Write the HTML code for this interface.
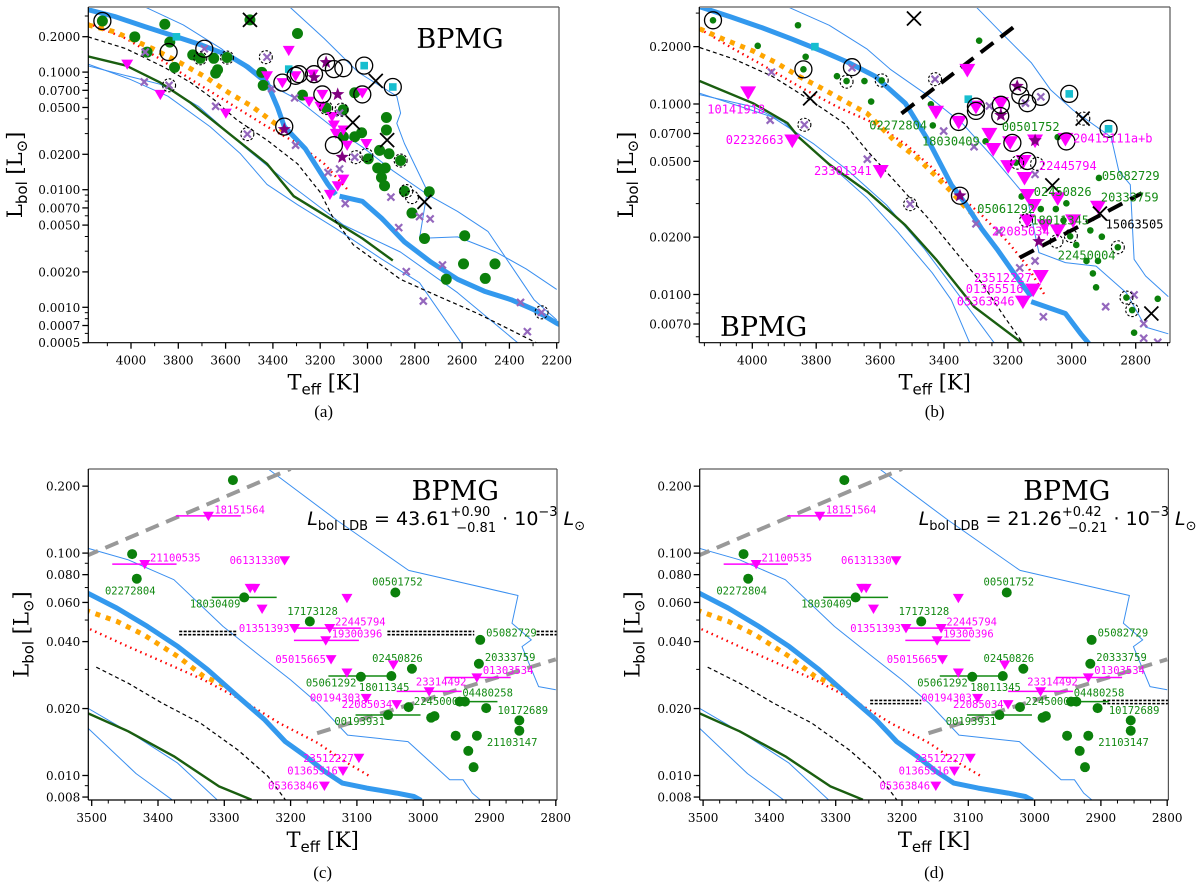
<!DOCTYPE html>
<html><head><meta charset="utf-8"><style>
html,body{margin:0;padding:0;background:#fff;}
svg{display:block;}
</style></head><body>
<svg id="fig" width="1200" height="892" viewBox="0 0 1200 892" xmlns="http://www.w3.org/2000/svg"></svg>
<script>
// ---------- PANEL A DATA ----------
const aXTicks=[4000,3800,3600,3400,3200,3000,2800,2600,2400,2200];
const aYTicks=[0.2,0.1,0.07,0.05,0.02,0.01,0.007,0.005,0.002,0.001,0.0007,0.0005];
const aYLabels=['0.2000','0.1000','0.0700','0.0500','0.0200','0.0100','0.0070','0.0050','0.0020','0.0010','0.0007','0.0005'];
const aBlueThick1=[[4182,0.339],[4069,0.297],[3940,0.243],[3828,0.206],[3699,0.169],[3586,0.138],[3505,0.110],[3425,0.0814],[3380,0.050],[3352,0.0344],[3263,0.0223],[3167,0.0111],[3134,0.0091]];
const aBlueThick2=[[3118,0.0088],[3022,0.00797],[2941,0.00573],[2844,0.0036],[2731,0.00242],[2619,0.00173],[2506,0.00137],[2393,0.00116],[2296,0.000955],[2200,0.000733],[2180,0.0007]];
const aOrange=[[4182,0.252],[4069,0.220],[3908,0.158],[3795,0.121],[3682,0.090],[3586,0.0667],[3489,0.0512],[3392,0.0367],[3344,0.0301]];
const aRed=[[4182,0.26],[4021,0.193],[3876,0.129],[3747,0.0869],[3586,0.0547],[3425,0.0344],[3296,0.0247],[3183,0.0166],[3086,0.0101]];
const aBlackDash=[[4182,0.1995],[4021,0.158],[3860,0.110],[3747,0.0814],[3650,0.0585],[3553,0.0393],[3425,0.0264],[3296,0.0166],[3200,0.0095],[3150,0.0060],[3060,0.0034],[2980,0.0026],[2861,0.00173],[2700,0.00124],[2538,0.000893],[2280,0.000492]];
const aGreenLine=[[4182,0.136],[4021,0.1135],[3876,0.0814],[3747,0.0547],[3586,0.0301],[3425,0.0166],[3312,0.00881],[3183,0.00612],[3022,0.00385],[2893,0.0025]];
const aThin1=[[4182,0.117],[4005,0.087],[3844,0.0624],[3666,0.0344],[3537,0.0202],[3425,0.0111],[3296,0.00746],[3134,0.00469],[2941,0.00258],[2780,0.00162],[2602,0.000492]];
const aThin2=[[4182,0.113],[3876,0.0787],[3715,0.0512],[3521,0.0231],[3328,0.0111],[3102,0.00501],[2861,0.00295],[2619,0.00133],[2361,0.000492]];
const aThin3=[[3940,0.357],[3779,0.252],[3618,0.158],[3457,0.0869],[3296,0.0585],[3150,0.0344],[3022,0.0231],[2893,0.0145],[2747,0.00912],[2619,0.00654],[2490,0.0044],[2393,0.00226],[2296,0.00116],[2200,0.000782]];
const aThin4=[[3328,0.357],[3183,0.193],[3038,0.0993],[2876,0.0624],[2860,0.0448],[2876,0.0367],[2844,0.0247],[2747,0.00975],[2780,0.00385],[2619,0.00397],[2457,0.00295],[2329,0.00212],[2200,0.00142]];
const aGreenPts=[[4121,0.272],[3857,0.255],[3984,0.1995],[3836,0.18],[3932,0.148],[3739,0.14],[3707,0.131],[3650,0.131],[3594,0.133],[3816,0.1097],[3634,0.1047],[3642,0.098],[3447,0.0994],[3441,0.0772],[3296,0.213],[3275,0.0637],[3054,0.0667],[2920,0.0411],[2920,0.0322],[3025,0.0305],[3054,0.0282],[3102,0.0282],[2949,0.0216],[2909,0.0202],[2997,0.0183],[2957,0.0153],[2925,0.0153],[2941,0.0127],[2928,0.0108],[2739,0.00961],[2812,0.00633],[2759,0.00385],[2589,0.00406],[2594,0.00234],[2461,0.00234],[2667,0.00173],[2502,0.00176],[2860,0.0177],[3175,0.0495],[3102,0.0479],[3497,0.278],[2844,0.00973]];
const aTriPts=[[3333,0.153],[4016,0.117],[3876,0.0646],[3599,0.0448],[3425,0.093],[3360,0.0814],[3304,0.093],[3247,0.0565],[3199,0.0512],[3191,0.0646],[3150,0.0419],[3142,0.0355],[3134,0.0301],[3102,0.0322],[3086,0.0239],[3005,0.0247],[3159,0.00912],[3126,0.0108],[3102,0.0123],[3022,0.0667],[3231,0.0961]];
const aXPts=[[3940,0.148],[3944,0.0825],[3839,0.0772],[3690,0.158],[3642,0.0512],[3508,0.0297],[3425,0.134],[3405,0.0723],[3308,0.0604],[3304,0.0239],[3167,0.014],[3118,0.015],[3094,0.00762],[2901,0.00865],[2868,0.00476],[2836,0.00201],[2780,0.00591],[2735,0.00565],[2683,0.00229],[2764,0.00113],[2353,0.0011],[2324,0.000621],[2264,0.000906],[3054,0.0189],[3118,0.0448]];
const aSquares=[[3808,0.1995],[3333,0.106],[3014,0.1135],[2893,0.0747]];
const aStars=[[3352,0.0326],[3175,0.121],[3126,0.0646],[3226,0.09],[3107,0.0189]];
const aBigX=[[3497,0.278],[3062,0.0373],[2917,0.0264],[2965,0.0842],[2759,0.00787]];
const aRings=[[4121,0.272],[3841,0.148],[3690,0.158],[3352,0.0344],[3360,0.0814],[3304,0.093],[3226,0.096],[3175,0.121],[3142,0.106],[3102,0.108],[3014,0.1135],[3191,0.0646],[3022,0.0646],[2893,0.0747],[3142,0.0239],[3290,0.096]];
const aDashRings=[[3707,0.131],[3594,0.133],[3839,0.0772],[3430,0.134],[3508,0.0297],[3175,0.0495],[3110,0.0479],[3050,0.0189],[3005,0.0197],[2860,0.0177],[2836,0.00973],[2812,0.00865],[2264,0.000906]];

// ---------- PANEL B DATA ----------
const bXTicks=[4000,3800,3600,3400,3200,3000,2800];
const bYTicks=[0.2,0.1,0.07,0.05,0.02,0.01,0.007];
const bYLabels=['0.2000','0.1000','0.0700','0.0500','0.0200','0.0100','0.0070'];
const bBlueThick1=[[4165,0.324],[4069,0.287],[3974,0.253],[3878,0.22],[3783,0.19],[3699,0.165],[3616,0.14],[3521,0.101],[3449,0.0643],[3377,0.0377],[3330,0.0295],[3282,0.0221],[3234,0.0173],[3175,0.0125],[3127,0.00975]];
const bBlueThick2=[[3127,0.00918],[3020,0.00795],[2972,0.00622],[2936,0.00527]];
const bOrange=[[4165,0.248],[4093,0.22],[3998,0.19],[3926,0.165],[3855,0.14],[3783,0.121],[3699,0.101],[3640,0.0891],[3556,0.0643],[3485,0.0524],[3425,0.0418],[3377,0.0347],[3330,0.0283],[3300,0.0255]];
const bRed=[[4165,0.248],[4057,0.194],[3962,0.158],[3855,0.124],[3735,0.0968],[3616,0.0789],[3521,0.0616],[3437,0.0463],[3366,0.0347],[3282,0.0261],[3199,0.0188],[3139,0.0141],[3085,0.00995]];
const bBlackDash=[[4165,0.198],[4057,0.172],[3938,0.14],[3819,0.105],[3711,0.0789],[3640,0.0568],[3544,0.0377],[3449,0.0251],[3354,0.016],[3282,0.0115],[3211,0.00764],[3151,0.00549]];
const bGreenLine=[[4165,0.132],[3998,0.101],[3890,0.0795],[3855,0.067],[3759,0.0482],[3640,0.0347],[3521,0.0231],[3425,0.0153],[3306,0.00863],[3151,0.00549]];
const bThin1=[[4165,0.112],[3998,0.0968],[3902,0.0805],[3855,0.067],[3759,0.0482],[3640,0.032],[3544,0.0212],[3437,0.013],[3377,0.00937],[3318,0.00549]];
const bThin2=[[4165,0.114],[3938,0.0856],[3807,0.0616],[3699,0.0445],[3580,0.0295],[3461,0.0173],[3342,0.00937],[3240,0.00549]];
const bThin3=[[3890,0.324],[3759,0.259],[3640,0.194],[3568,0.152],[3461,0.114],[3342,0.0789],[3246,0.0524],[3139,0.032],[3103,0.0166],[3020,0.0147],[2924,0.0141],[2829,0.0102],[2769,0.00674],[2698,0.00622]];
const bThin4=[[3300,0.324],[3222,0.238],[3127,0.165],[3067,0.119],[2996,0.0929],[2877,0.067],[2853,0.0445],[2817,0.0377],[2805,0.0153],[2769,0.0125],[2698,0.00975]];
const bDashUpper=[[3533,0.0891],[3175,0.259]];
const bDashLower=[[3163,0.0156],[2781,0.034]];
const bTriPts=[[4013,0.115],[3875,0.0643],[3598,0.0445],[3425,0.091],[3327,0.151],[3354,0.0805],[3300,0.0968],[3222,0.101],[3258,0.0697],[3246,0.058],[3193,0.063],[3199,0.0472],[3148,0.0409],[3139,0.0333],[3119,0.0295],[3139,0.0245],[3085,0.0231],[3044,0.0217],[2996,0.0245],[3044,0.032],[3097,0.0125],[3121,0.0106],[3153,0.00918],[3020,0.0656],[3115,0.0643],[2918,0.0289],[3151,0.0502]];
const bGreenPts=[[4123,0.275],[3857,0.259],[3983,0.202],[3833,0.177],[3840,0.152],[3735,0.14],[3705,0.132],[3649,0.132],[3628,0.103],[3595,0.133],[3441,0.0996],[3435,0.0772],[3290,0.215],[3270,0.0637],[3175,0.0492],[3157,0.0327],[3097,0.0281],[3050,0.0281],[3017,0.0301],[3026,0.0245],[2986,0.0182],[2942,0.0217],[2906,0.0201],[2954,0.015],[2918,0.015],[2934,0.0129],[2924,0.0109],[2915,0.0409],[2829,0.00964],[2811,0.00828],[2805,0.0063],[2731,0.00949],[2856,0.0177],[3005,0.0202],[3044,0.067]];
const bXPts=[[3940,0.147],[3944,0.0822],[3837,0.0778],[3688,0.155],[3640,0.0513],[3506,0.0298],[3428,0.135],[3401,0.0721],[3300,0.0235],[3258,0.0976],[3163,0.0138],[3115,0.015],[3115,0.0427],[3228,0.0214],[3145,0.101],[3097,0.109],[3089,0.00764],[2894,0.00863],[2805,0.00995],[2775,0.00703],[2775,0.00589],[2731,0.00561],[3306,0.0597]];
const bSquares=[[3804,0.2],[3324,0.106],[3008,0.113],[2885,0.0741]];
const bStars=[[3350,0.033],[3171,0.124],[3115,0.0643],[3222,0.0873],[3103,0.019]];
const bBigX=[[3494,0.281],[3819,0.107],[2966,0.0838],[3061,0.0374],[2912,0.0266],[2751,0.00795]];
const bRings=[[4123,0.275],[3840,0.152],[3688,0.156],[3354,0.0805],[3300,0.0968],[3300,0.092],[3222,0.099],[3224,0.0865],[3167,0.124],[3161,0.111],[3139,0.101],[3097,0.109],[3008,0.113],[2885,0.0741],[3186,0.0625],[3017,0.0636],[3350,0.033],[3139,0.0502]];
const bDashRings=[[3705,0.131],[3595,0.133],[3837,0.0778],[3428,0.135],[3506,0.0298],[3171,0.0492],[3109,0.0485],[3143,0.0245],[3048,0.019],[3003,0.0203],[2856,0.0177],[2829,0.00964],[2811,0.00828],[2964,0.0838]];
const bLabelText=['10141918','02232663','23301341','20415111a+b','22445794','22085034','23512227','01365516','05363846','02272804','00501752','18030409','05082729','02450826','20333759','05061292','18011345','22450004','15063505'];
const bLabelPos=[[4141,0.0891],[4083,0.0616],[3807,0.0423],[2996,0.0629],[3103,0.045],[3250,0.0204],[3306,0.0116],[3332,0.0102],[3360,0.00873],[3634,0.0736],[3219,0.0721],[3469,0.0604],[2906,0.0398],[3119,0.0328],[2909,0.0308],[3296,0.0267],[3127,0.0233],[3044,0.0153],[2894,0.0222]];
const bLabelKind=['m','m','m','m','m','m','m','m','m','g','g','g','g','g','g','g','g','g','k'];

// ---------- PANELS C & D DATA ----------
const cXTicks=[3500,3400,3300,3200,3100,3000,2900,2800];
const cYTicks=[0.2,0.1,0.08,0.06,0.04,0.02,0.01,0.008];
const cYLabels=['0.200','0.100','0.080','0.060','0.040','0.020','0.010','0.008'];
const cBlueThick=[[3510,0.067],[3462,0.0566],[3416,0.0468],[3370,0.038],[3325,0.0299],[3279,0.0226],[3239,0.0178],[3208,0.0142],[3177,0.0122],[3148,0.0104],[3122,0.00924],[3085,0.00878],[3040,0.00833],[3014,0.00805],[3003,0.00773]];
const cOrange=[[3510,0.0555],[3462,0.0493],[3422,0.043],[3370,0.0343],[3331,0.0279],[3296,0.0251]];
const cRed=[[3510,0.0466],[3445,0.038],[3388,0.032],[3331,0.0269],[3274,0.0219],[3217,0.0172],[3159,0.014],[3119,0.0116],[3080,0.0099]];
const cBlackDash=[[3493,0.0307],[3445,0.026],[3393,0.0211],[3336,0.0172],[3279,0.013],[3234,0.0099],[3208,0.00778]];
const cGreenLine=[[3510,0.0193],[3445,0.0158],[3376,0.0122],[3308,0.00893],[3259,0.00778]];
const cThin1=[[3510,0.0204],[3433,0.015],[3371,0.0114],[3311,0.00778]];
const cThin2=[[3510,0.0168],[3433,0.0102],[3379,0.00778]];
const cThin3=[[3510,0.106],[3445,0.0933],[3376,0.0759],[3302,0.0468],[3245,0.0343],[3200,0.0269],[3159,0.0211],[3114,0.0152],[3023,0.0142],[2988,0.0114],[2960,0.00957],[2940,0.00957],[2926,0.00833],[2914,0.00778]];
const cThin4=[[3234,0.239],[3131,0.141],[3022,0.0836],[2857,0.0645],[2866,0.0484],[2837,0.0407],[2851,0.038],[2826,0.0251],[2800,0.0243]];
const cGrayUpper=[[3510,0.0966],[3200,0.239]];
const cGrayLower=[[3160,0.0155],[2800,0.0333]];
const cGreenPts=[[3287,0.213],[3439,0.099],[3432,0.0767],[3270,0.0632],[3171,0.0493],[3042,0.0665],[2914,0.0407],[2916,0.0318],[3017,0.0302],[3094,0.0278],[3048,0.028],[2945,0.0215],[2937,0.0215],[2905,0.0201],[3022,0.0203],[3053,0.0187],[2988,0.0182],[2983,0.0185],[2855,0.0177],[2855,0.0159],[2951,0.0151],[2919,0.0151],[2932,0.0129],[2924,0.0109]];
const cTriPts=[[3324,0.147],[3420,0.0892],[3209,0.0928],[3261,0.0697],[3254,0.0697],[3243,0.0562],[3115,0.0628],[3194,0.046],[3141,0.046],[3147,0.0405],[3139,0.0333],[3115,0.029],[3045,0.0315],[2919,0.0276],[2991,0.0239],[3086,0.0223],[3040,0.0209],[3097,0.012],[3121,0.0105],[3149,0.00899]];
const cErrMag=[[3373,3275,0.147],[3469,3372,0.0892],[3194,3094,0.046],[3195,3097,0.0405],[2968,2868,0.0276],[3040,2942,0.0239]];
const cErrGreen=[[3319,3221,0.0632],[3143,3048,0.028],[3102,3004,0.0187],[2948,2888,0.0215]];
const cLabelText=['18151564','21100535','06131330','01351393','22445794','19300396','05015665','01303534','23314492','00194303','22085034','23512227','01365516','05363846','02272804','18030409','00501752','17173128','05082729','02450826','20333759','05061292','18011345','04480258','22450004','10172689','00193931','21103147'];
const cLabelPos=[[3315,0.151],[3412,0.0918],[3292,0.0892],[3278,0.0441],[3133,0.0473],[3138,0.0418],[3223,0.032],[2910,0.0286],[3011,0.0254],[3171,0.0215],[3123,0.0201],[3181,0.0115],[3205,0.0101],[3234,0.00863],[3480,0.065],[3352,0.057],[3077,0.0716],[3205,0.0528],[2905,0.0422],[3077,0.0324],[2907,0.0328],[3177,0.0251],[3097,0.024],[2941,0.0226],[3014,0.0208],[2888,0.0189],[3134,0.0169],[2904,0.0136]];
const cLabelKind=['m','m','m','m','m','m','m','m','m','m','m','m','m','m','g','g','g','g','g','g','g','g','g','g','g','g','g','g'];
const cLdb=[0.0437];
const cLdbSeg=[[3368,3282],[3054,2923],[2829,2790]];
const cFormula=['43.61','+0.90','\u22120.81'];
const dLdb=[0.0214];
const dLdbSeg=[[3248,3171],[2897,2790]];
const dFormula=['21.26','+0.42','\u22120.21'];

// ---------- HELPERS ----------
const NS='http://www.w3.org/2000/svg';
const svg=document.getElementById('fig');
function mk(tag,attrs,parent){const e=document.createElementNS(NS,tag);for(const k in attrs)e.setAttribute(k,attrs[k]);(parent||svg).appendChild(e);return e;}
const lg=Math.log10;
function mkPanel(id,x0,x1,y0,y1,sx,sy){return {id,x0,x1,y0,y1,sx,sy};}
const PA=mkPanel('a',88.3,559,7,342.7,T=>131+(4000-T)*0.2365,L=>342.7-(lg(L)-lg(0.0005))*117.6);
const PB=mkPanel('b',699.3,1170,7,342.7,T=>752.3+(4000-T)*0.3195,L=>324-(lg(L)-lg(0.007))*190.5);
const PC=mkPanel('c',88.3,557,469,800,T=>91.7+(3500-T)*0.663,L=>775.5-(lg(L)+2)*222.4);
const PD=mkPanel('d',699.7,1168.4,469,800,T=>703.1+(3500-T)*0.663,L=>775.5-(lg(L)+2)*222.4);
function invT(P,x){let lo=1000,hi=6000;for(let i=0;i<50;i++){const m=(lo+hi)/2;if(P.sx(m)>x)lo=m;else hi=m;}return (lo+hi)/2;}
function invL(P,y){let lo=-5,hi=1;for(let i=0;i<50;i++){const m=(lo+hi)/2;if(P.sy(Math.pow(10,m))>y)lo=m;else hi=m;}return Math.pow(10,(lo+hi)/2);}

function setupPanel(P){
  const defs=mk('defs',{});
  const cp=mk('clipPath',{id:'clip-'+P.id},defs);
  mk('rect',{x:P.x0,y:P.y0,width:P.x1-P.x0,height:P.y1-P.y0},cp);
  const g=mk('g',{'clip-path':'url(#clip-'+P.id+')'});
  
  
  P.g=g;
}
function axes(P,xTicks,xMinor,yTicks,yLabels){
  const g=mk('g',{});
  
  
  const top=mk('line',{x1:P.x0,y1:P.y0,x2:P.x1,y2:P.y0,stroke:'#999',"stroke-width":2},g);
  
  
  const right=mk('line',{x1:P.x1,y1:P.y0,x2:P.x1,y2:P.y1,stroke:'#555',"stroke-width":1.2},g);
  
  
  const left=mk('line',{x1:P.x0,y1:P.y0,x2:P.x0,y2:P.y1,stroke:'#000',"stroke-width":1.2},g);
  
  
  const bot=mk('line',{x1:P.x0,y1:P.y1,x2:P.x1,y2:P.y1,stroke:'#000',"stroke-width":1.2},g);
  
  
  const tHi=invT(P,P.x0), tLo=invT(P,P.x1);
  for(let t=Math.ceil(tLo/xMinor)*xMinor;t<=tHi;t+=xMinor){
    if(xTicks.indexOf(t)>=0)continue;
    const x=P.sx(t);
    const m=mk('line',{x1:x,y1:P.y1,x2:x,y2:P.y1+3.5,stroke:'#000',"stroke-width":1},g);
    
    
  }
  xTicks.forEach(t=>{
    const x=P.sx(t);
    const tk=mk('line',{x1:x,y1:P.y1,x2:x,y2:P.y1+6,stroke:'#000',"stroke-width":1.3},g);
    
    
    const tx=mk('text',{x:x,y:P.y1+22,"text-anchor":'middle',"font-family":'"DejaVu Serif","Liberation Serif",serif',"font-size":12,fill:'#000'},g);
    tx.textContent=String(t);
    
    
  });
  const lLo=invL(P,P.y1), lHi=invL(P,P.y0);
  for(let k=-5;k<=0;k++){for(let d=1;d<=9;d++){
    const v=d*Math.pow(10,k);
    if(v<lLo*0.999||v>lHi)continue;
    if(yTicks.some(u=>Math.abs(u-v)/v<1e-6))continue;
    const y=P.sy(v);
    const m=mk('line',{x1:P.x0-3.5,y1:y,x2:P.x0,y2:y,stroke:'#000',"stroke-width":1},g);
    
    
  }}
  yTicks.forEach((v,i)=>{
    const y=P.sy(v);
    const tk=mk('line',{x1:P.x0-6,y1:y,x2:P.x0,y2:y,stroke:'#000',"stroke-width":1.3},g);
    
    
    const tx=mk('text',{x:P.x0-8,y:y+4.5,"text-anchor":'end',"font-family":'"DejaVu Serif","Liberation Serif",serif',"font-size":12,fill:'#000'},g);
    tx.textContent=yLabels[i];
    
    
  });
}
function titles(P,ylx,capY){
  const cx=(P.x0+P.x1)/2, cy=(P.y0+P.y1)/2;
  const xt=mk('text',{x:cx,y:P.y1+47,"text-anchor":'middle',"font-family":'"DejaVu Serif","Liberation Serif",serif',"font-size":21,fill:'#000'});
  
  
  xt.innerHTML='T<tspan font-size="15" dy="5" font-family="DejaVu Sans, sans-serif">eff</tspan><tspan dy="-5"> [K]</tspan>';
  const yt=mk('text',{x:0,y:0,transform:'translate('+ylx+','+cy+') rotate(-90)',"text-anchor":'middle',"font-family":'"DejaVu Serif","Liberation Serif",serif',"font-size":21,fill:'#000'});
  
  
  yt.innerHTML='L<tspan font-size="15" dy="5" font-family="DejaVu Sans, sans-serif">bol</tspan><tspan dy="-5"> [L</tspan><tspan font-size="15" dy="5">\u2299</tspan><tspan dy="-5">]</tspan>';
  const cap=mk('text',{x:cx,y:capY,"text-anchor":'middle',"font-family":'"Liberation Serif",serif',"font-size":17,fill:'#000'});
  cap.textContent='('+P.id+')';
  
  
}
function line(P,arr,stroke,w,dash,name){
  const d=arr.map((p,i)=>(i?'L':'M')+P.sx(p[0]).toFixed(1)+','+P.sy(p[1]).toFixed(1)).join(' ');
  const el=mk('path',{d:d,fill:'none',stroke:stroke,"stroke-width":w,"stroke-dasharray":dash||'none',"stroke-linejoin":'round'},P.g);
  
  
}
function starPts(x,y,r){let s=[];for(let i=0;i<10;i++){const a=-Math.PI/2+i*Math.PI/5;const rr=i%2?r*0.42:r;s.push((x+rr*Math.cos(a)).toFixed(1)+','+(y+rr*Math.sin(a)).toFixed(1));}return s.join(' ');}
function markers(P,arr,type,s,name){
  arr.forEach(p=>{
    const x=P.sx(p[0]), y=P.sy(p[1]); let el;
    if(type==='dot') el=mk('circle',{cx:x,cy:y,r:s,fill:'#0b800b'},P.g);
    else if(type==='tri') el=mk('polygon',{points:(x-s)+','+(y-s*0.75)+' '+(x+s)+','+(y-s*0.75)+' '+x+','+(y+s*0.95),fill:'#ff00ff'},P.g);
    else if(type==='x') el=mk('path',{d:'M'+(x-s)+','+(y-s)+'L'+(x+s)+','+(y+s)+'M'+(x-s)+','+(y+s)+'L'+(x+s)+','+(y-s),stroke:'#9467bd',"stroke-width":2.2,fill:'none'},P.g);
    else if(type==='bigx') el=mk('path',{d:'M'+(x-s)+','+(y-s)+'L'+(x+s)+','+(y+s)+'M'+(x-s)+','+(y+s)+'L'+(x+s)+','+(y-s),stroke:'#000',"stroke-width":1.8,fill:'none'},P.g);
    else if(type==='sq') el=mk('rect',{x:x-s,y:y-s,width:2*s,height:2*s,fill:'#17becf'},P.g);
    else if(type==='star') el=mk('polygon',{points:starPts(x,y,s),fill:'#800080'},P.g);
    else if(type==='ring') el=mk('circle',{cx:x,cy:y,r:s,fill:'none',stroke:'#000',"stroke-width":1.3},P.g);
    else if(type==='dring') el=mk('circle',{cx:x,cy:y,r:s,fill:'none',stroke:'#000',"stroke-width":1.1,"stroke-dasharray":'2.5,1.8'},P.g);
    
    
  });
}
function labels(P,texts,pos,kinds,size){
  texts.forEach((t,i)=>{
    const col=kinds[i]==='m'?'#ff00ff':(kinds[i]==='g'?'#138a13':'#000');
    const el=mk('text',{x:P.sx(pos[i][0]),y:P.sy(pos[i][1]),"font-family":'"DejaVu Sans Mono","Liberation Mono",monospace',"font-size":size,fill:col},P.g);
    el.textContent=t;
    
    
  });
}
function bpmg(x,y,anchor){
  const el=mk('text',{x:x,y:y,"text-anchor":anchor,"font-family":'"DejaVu Serif","Liberation Serif",serif',"font-size":27,fill:'#000'});
  el.textContent='BPMG';
  
  
}

// ---------- PANEL A ----------
setupPanel(PA);
line(PA,aThin1,'#3a8ff0',1,null,'isochrone-thin');
line(PA,aThin2,'#3a8ff0',1,null,'isochrone-thin');
line(PA,aThin3,'#3a8ff0',1,null,'isochrone-thin');
line(PA,aThin4,'#3a8ff0',1,null,'isochrone-thin');
line(PA,aGreenLine,'#1a5e10',2.4,null,'dark-green-track');
line(PA,aBlackDash,'#000',1.2,'4,3','black-dashed-track');
line(PA,aRed,'#ff0000',2.4,'1.5,4','red-dotted-track');
line(PA,aOrange,'#ffa500',5,'5,6','orange-dotted-track');
line(PA,aBlueThick1,'#3399ee',5,null,'isochrone-thick');
line(PA,aBlueThick2,'#3399ee',5,null,'isochrone-thick');
markers(PA,aGreenPts,'dot',5.5,'green-member');
markers(PA,aTriPts,'tri',6,'magenta-upper-limit');
markers(PA,aXPts,'x',3.5,'purple-candidate');
markers(PA,aSquares,'sq',3.8,'cyan-square');
markers(PA,aStars,'star',7,'purple-star');
markers(PA,aRings,'ring',8.5,'binary-ring');
markers(PA,aDashRings,'dring',6.5,'dashed-ring');
markers(PA,aBigX,'bigx',7,'black-cross');
axes(PA,aXTicks,100,aYTicks,aYLabels);
titles(PA,22,417);
bpmg(460,48,'middle');

// ---------- PANEL B ----------
setupPanel(PB);
line(PB,bThin1,'#3a8ff0',1,null,'isochrone-thin');
line(PB,bThin2,'#3a8ff0',1,null,'isochrone-thin');
line(PB,bThin3,'#3a8ff0',1,null,'isochrone-thin');
line(PB,bThin4,'#3a8ff0',1,null,'isochrone-thin');
line(PB,bGreenLine,'#1a5e10',2.4,null,'dark-green-track');
line(PB,bBlackDash,'#000',1.2,'4,3','black-dashed-track');
line(PB,bRed,'#ff0000',2.4,'1.5,4','red-dotted-track');
line(PB,bOrange,'#ffa500',5,'5,6','orange-dotted-track');
line(PB,bBlueThick1,'#3399ee',5,null,'isochrone-thick');
line(PB,bBlueThick2,'#3399ee',5,null,'isochrone-thick');
line(PB,bDashUpper,'#000',4,'16,9','ldb-boundary-upper');
line(PB,bDashLower,'#000',4,'16,9','ldb-boundary-lower');
markers(PB,bGreenPts,'dot',3.3,'green-member');
markers(PB,bTriPts,'tri',8,'magenta-upper-limit');
markers(PB,bXPts,'x',3.5,'purple-candidate');
markers(PB,bSquares,'sq',3.8,'cyan-square');
markers(PB,bStars,'star',7,'purple-star');
markers(PB,bRings,'ring',8.5,'binary-ring');
markers(PB,bDashRings,'dring',6.5,'dashed-ring');
markers(PB,bBigX,'bigx',7,'black-cross');
labels(PB,bLabelText,bLabelPos,bLabelKind,12);
axes(PB,bXTicks,50,bYTicks,bYLabels);
titles(PB,633,417);
bpmg(720,336,'start');

// ---------- PANELS C, D ----------
function drawCD(P,ldb,seg,formula){
  setupPanel(P);
  line(P,cThin1,'#3a8ff0',1,null,'isochrone-thin');
  line(P,cThin2,'#3a8ff0',1,null,'isochrone-thin');
  line(P,cThin3,'#3a8ff0',1,null,'isochrone-thin');
  line(P,cThin4,'#3a8ff0',1,null,'isochrone-thin');
  line(P,cGreenLine,'#1a5e10',2.4,null,'dark-green-track');
  line(P,cBlackDash,'#000',1.2,'4,3','black-dashed-track');
  line(P,cRed,'#ff0000',2.4,'1.5,4','red-dotted-track');
  line(P,cOrange,'#ffa500',5,'5,6','orange-dotted-track');
  line(P,cBlueThick,'#3399ee',5,null,'isochrone-thick');
  line(P,cGrayUpper,'#999',4,'14,8','gray-boundary-upper');
  line(P,cGrayLower,'#999',4,'14,8','gray-boundary-lower');
  seg.forEach(s=>{
    [-1.6,1.6].forEach(off=>{
      const el=mk('line',{x1:P.sx(s[0]),x2:P.sx(s[1]),y1:P.sy(ldb[0])+off,y2:P.sy(ldb[0])+off,stroke:'#000',"stroke-width":1.6,"stroke-dasharray":'3,1.5'},P.g);
      
      
    });
  });
  cErrMag.forEach(e=>{
    const el=mk('line',{x1:P.sx(e[0]),x2:P.sx(e[1]),y1:P.sy(e[2]),y2:P.sy(e[2]),stroke:'#ff00ff',"stroke-width":1.5},P.g);
    
    
  });
  cErrGreen.forEach(e=>{
    const el=mk('line',{x1:P.sx(e[0]),x2:P.sx(e[1]),y1:P.sy(e[2]),y2:P.sy(e[2]),stroke:'#138a13',"stroke-width":1.5},P.g);
    
    
  });
  labels(P,cLabelText,cLabelPos,cLabelKind,10.5);
  markers(P,cGreenPts,'dot',5,'green-member');
  markers(P,cTriPts,'tri',5.5,'magenta-upper-limit');
  axes(P,cXTicks,25,cYTicks,cYLabels);
  titles(P,P.x0-60,878);
  bpmg(P.x0+367,500,'middle');
  const f=mk('text',{x:P.x0+219,y:525,"font-family":'"DejaVu Sans","Liberation Sans",sans-serif',"font-size":19,fill:'#000'});
  
  
  f.innerHTML='<tspan font-style="italic">L</tspan><tspan font-size="13" dy="5">bol LDB</tspan><tspan dy="-5"> = '+formula[0]+'</tspan><tspan font-size="13" dy="-9">'+formula[1]+'</tspan><tspan font-size="13" dx="-34" dy="16">'+formula[2]+'</tspan><tspan dy="-7"> · 10</tspan><tspan font-size="13" dy="-9">\u22123</tspan><tspan dy="9"> </tspan><tspan font-style="italic">L</tspan><tspan font-size="13" dy="5">\u2299</tspan>';
}
drawCD(PC,cLdb,cLdbSeg,cFormula);
drawCD(PD,dLdb,dLdbSeg,dFormula);
</script>
</body></html>
